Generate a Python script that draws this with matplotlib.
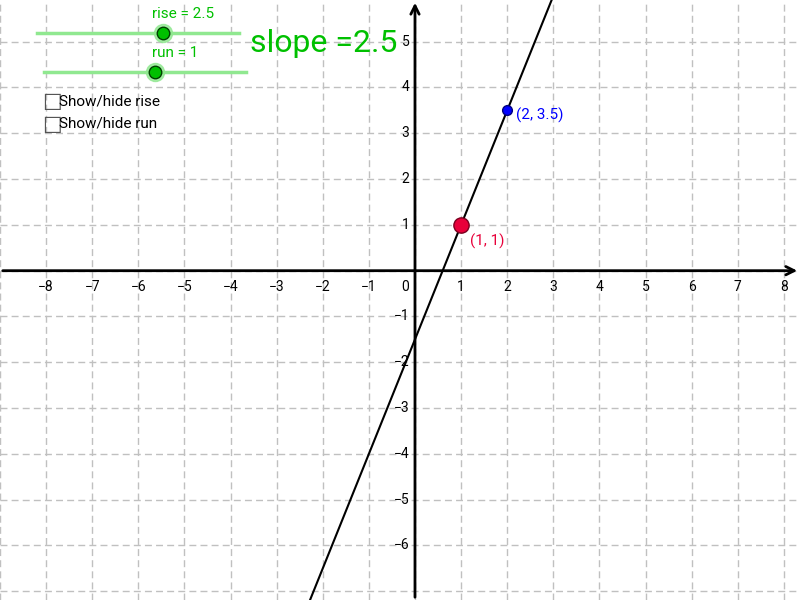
import matplotlib
matplotlib.use("Agg")
import matplotlib.pyplot as plt
import numpy as np

# data
rise = 2.5
run = 1
p1 = (1, 1)
p2 = (p1[0] + run, p1[1] + rise)
x_ticks = [-8, -7, -6, -5, -4, -3, -2, -1, 1, 2, 3, 4, 5, 6, 7, 8]
y_ticks = [-6, -5, -4, -3, -2, -1, 1, 2, 3, 4, 5]

W, H = 800, 600
fig = plt.figure(figsize=(8, 6), dpi=100)
fig.patch.set_facecolor("white")
ax = fig.add_axes([0, 0, 1, 1])
ax.set_xlim(-9.0, 8.35)
ax.set_ylim(-7.19, 5.91)
ax.axis("off")

# grid
for g in range(-9, 9):
    ax.axvline(g, color="#c0c0c0", lw=1, ls=(0, (5, 3)), zorder=0)
for g in range(-7, 6):
    ax.axhline(g, color="#c0c0c0", lw=1, ls=(0, (5, 3)), zorder=0)

# axes with arrows
ax.annotate("", xy=(8.35, 0), xytext=(-9.0, 0),
            arrowprops=dict(arrowstyle="->", color="black", lw=2, mutation_scale=15))
ax.annotate("", xy=(0, 5.91), xytext=(0, -7.19),
            arrowprops=dict(arrowstyle="->", color="black", lw=2, mutation_scale=15))

fs = 10
for t in x_ticks:
    ax.text(t, -0.2, f"{t}".replace("-", "\u2212"), ha="center", va="top", fontsize=fs, family="Roboto")
ax.text(-0.12, -0.2, "0", ha="right", va="top", fontsize=fs, family="Roboto")
for t in y_ticks:
    ax.text(-0.12, t, f"{t}".replace("-", "\u2212"), ha="right", va="center", fontsize=fs, family="Roboto")

# line through the points
slope = rise / run
xs = np.array([-9.0, 8.35])
ax.plot(xs, p1[1] + slope * (xs - p1[0]), color="black", lw=1.5, zorder=3)

ax.plot(*p1, "o", ms=11, mfc="#e8003a", mec="#7a0020", mew=1, zorder=4)
ax.text(p1[0] + 0.2, p1[1] - 0.2, "(1, 1)", color="#e8003a", fontsize=11, va="top", family="Roboto")
ax.plot(*p2, "o", ms=7, mfc="#0000ff", mec="#000080", mew=1, zorder=4)
ax.text(p2[0] + 0.18, p2[1] - 0.1, "(2, 3.5)", color="#0000ff", fontsize=11, va="center", family="Roboto")

# sliders and checkboxes (screen widgets, in pixel coords)
def px(x, y):
    return x / W, 1 - y / H

green = "#00c000"
for (x0, x1, yy, xp, label) in [(37, 239, 33, 163, f"rise = {rise}"), (44, 246, 72, 155, f"run = {run}")]:
    fig.add_artist(plt.Line2D([x0 / W, x1 / W], [1 - yy / H] * 2, color="#90e890", lw=2.5))
    fig.add_artist(plt.Line2D([xp / W], [1 - yy / H], marker="o", ms=13, color="#90e890", alpha=0.8))
    fig.add_artist(plt.Line2D([xp / W], [1 - yy / H], marker="o", ms=9, mfc=green, mec="#004000"))
    fig.text(*px(xp + 20, yy - 12), label, color=green, fontsize=11, ha="center", va="bottom", family="Roboto")

fig.text(*px(250, 44), f"slope ={slope:g}", color=green, fontsize=23, va="center", family="Roboto")

for yy, label in [(101, "Show/hide rise"), (124, "Show/hide run")]:
    fig.text(*px(42, yy), "\u25a1", fontsize=15, va="center", color="#555555", family="DejaVu Sans")
    fig.text(*px(59, yy), label, fontsize=11, va="center", family="Roboto")

fig.savefig("out.png", dpi=100, facecolor="white")
